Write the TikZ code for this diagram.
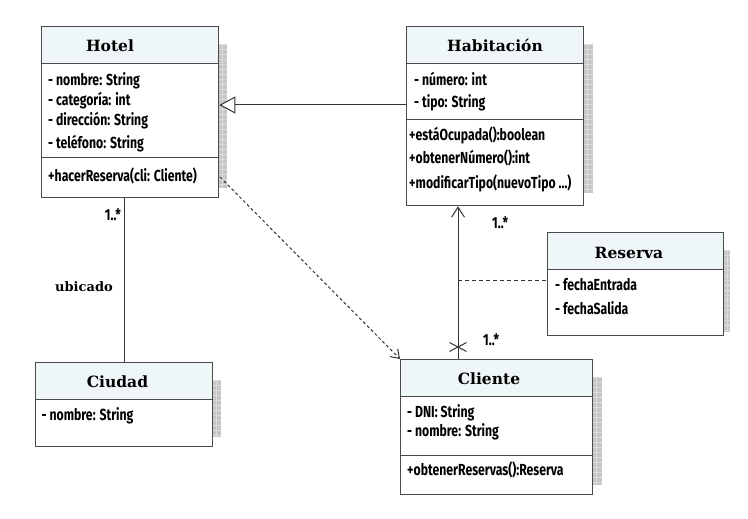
\documentclass[tikz,border=0pt]{standalone}
\usepackage{fontspec}
\newfontfamily\titlefont{DejaVu Serif}
\newfontfamily\attrfont[FakeStretch=0.765]{Fira Sans}
\usetikzlibrary{arrows.meta,calc}
\definecolor{boxborder}{HTML}{4A4A4A}
\definecolor{titlefill}{HTML}{EEF6F8}
\definecolor{shadowgray}{HTML}{C6C6C6}
\definecolor{shadowline}{HTML}{DCDCDC}
\definecolor{linecol}{HTML}{333333}
\begin{document}
\begin{tikzpicture}[x=1pt,y=-1pt,
  comp/.style={draw=boxborder,line width=1.3pt,rectangle,inner sep=0pt,anchor=north west,fill=white},
  ttl/.style={comp,fill=titlefill},
  ttltext/.style={font=\titlefont\bfseries\fontsize{15.5}{18}\selectfont,inner sep=0pt,anchor=base,text=black},
  attr/.style={font=\attrfont\bfseries\fontsize{16}{19}\selectfont,inner sep=0pt,anchor=base west,text=black},
  lbl/.style={font=\attrfont\bfseries\fontsize{16}{19}\selectfont,inner sep=0pt,anchor=base west,text=black},
  shadowbox/.style={fill=shadowgray,draw=none},
  conn/.style={draw=linecol,line width=1pt},
]
\useasboundingbox (0,0) rectangle (748,519);
\fill[white] (0,0) rectangle (748,519);

% shadows
\foreach \xa/\ya/\xb/\yb in {218/44/227/188, 583/44/593/193, 723/250/730/332, 592/377/602/485, 212/380/221/437}{
  \fill[shadowbox] (\xa,\ya) rectangle (\xb,\yb);
  \begin{scope}
    \clip (\xa,\ya) rectangle (\xb,\yb);
    \foreach \k in {0,5,...,160}{
      \draw[shadowline,line width=0.6pt] (\xa,\ya+\k) -- (\xb,\ya+\k);
    }
    \draw[shadowline,line width=0.6pt] (\xa+4,\ya) -- (\xa+4,\yb);
  \end{scope}
}

% Hotel
\node[ttl,minimum width=177pt,minimum height=36.7pt] (hotelT) at (41,26) {};
\node[comp,minimum width=177pt,minimum height=94.3pt] (hotelA) at (41,62.7) {};
\node[comp,minimum width=177pt,minimum height=40pt] (hotelM) at (41,157) {};
\node[ttltext] (hotelN) at (110,51.7) {Hotel};
\node[attr] (hotel1) at (48,85.7) {- nombre: String};
\node[attr] (hotel2) at (48,105.5) {- categoría: int};
\node[attr] (hotel3) at (48,126) {- dirección: String};
\node[attr] (hotel4) at (48,149) {- teléfono: String};
\node[attr] (hotel5) at (48,181) {+hacerReserva(cli: Cliente)};

% Habitacion
\node[ttl,minimum width=177pt,minimum height=36.7pt] (habT) at (406,26) {};
\node[comp,minimum width=177pt,minimum height=56pt] (habA) at (406,62.7) {};
\node[comp,minimum width=177pt,minimum height=86.3pt] (habM) at (406,118.7) {};
\node[ttltext] (habN) at (495,51.7) {Habitación};
\node[attr] (hab1) at (414,85) {- número: int};
\node[attr] (hab2) at (414,107.3) {- tipo: String};
\node[attr] (hab3) at (409,140) {+estáOcupada():boolean};
\node[attr] (hab4) at (409,163.3) {+obtenerNúmero():int};
\node[attr] (hab5) at (409,188.3) {+modificarTipo(nuevoTipo ...)};

% Reserva
\node[ttl,minimum width=176pt,minimum height=37pt] (resT) at (547,232) {};
\node[comp,minimum width=176pt,minimum height=66pt] (resA) at (547,269) {};
\node[ttltext] (resN) at (629,258.3) {Reserva};
\node[attr] (res1) at (555,290.7) {- fechaEntrada};
\node[attr] (res2) at (555,314) {- fechaSalida};

% Cliente
\node[ttl,minimum width=192pt,minimum height=37pt] (cliT) at (400,359) {};
\node[comp,minimum width=192pt,minimum height=58.7pt] (cliA) at (400,396) {};
\node[comp,minimum width=192pt,minimum height=39.3pt] (cliM) at (400,454.7) {};
\node[ttltext] (cliN) at (489,384.3) {Cliente};
\node[attr] (cli1) at (407,417.7) {- DNI: String};
\node[attr] (cli2) at (407,436) {- nombre: String};
\node[attr] (cli3) at (407,475) {+obtenerReservas():Reserva};

% Ciudad
\node[ttl,minimum width=177pt,minimum height=37pt] (ciuT) at (35,362) {};
\node[comp,minimum width=177pt,minimum height=47pt] (ciuA) at (35,399) {};
\node[ttltext] (ciuN) at (117.5,387.3) {Ciudad};
\node[attr] (ciu1) at (41.5,420) {- nombre: String};

% coordinates
\coordinate (genY) at (0,105);
\coordinate (assocX) at (458,0);
\coordinate (depStart) at (220,177);
\coordinate (resJoin) at (458,280);
\coordinate (crossC) at (458,347);

% generalization Habitacion -> Hotel
\draw[conn,-{Triangle[open,length=16pt,width=17pt,fill=white]}]
  (habA.west |- genY) -- (hotelA.east |- genY);

% dependency Hotel -> Cliente
\draw[conn,dash pattern=on 3pt off 2.5pt,-{Straight Barb[length=8pt,width=11pt]}]
  (depStart) -- (cliT.north west);

% association Hotel - Ciudad
\draw[conn] (ciuT.north -| 124,0) -- (hotelM.south -| 124,0);
\node[lbl,anchor=base east] (multH) at (121,220) {1..*};
\node[ttltext,font=\titlefont\bfseries\fontsize{13}{16}\selectfont,anchor=base west] (ubic) at (55,291) {ubicado};

% association Cliente -> Habitacion
\draw[conn,-{Straight Barb[length=10pt,width=13pt]}]
  (cliT.north -| assocX) -- (habM.south -| assocX);
\draw[conn] ($(crossC)+(-8.5,-4.5)$) -- ($(crossC)+(8.5,4.5)$);
\draw[conn] ($(crossC)+(-8.5,4.5)$) -- ($(crossC)+(8.5,-4.5)$);
\node[lbl] (multT) at (492,228) {1..*};
\node[lbl] (multB) at (483,345) {1..*};

% association class link
\draw[conn,dash pattern=on 4pt off 3pt] (resJoin) -- (resA.west |- resJoin);
\end{tikzpicture}
\end{document}
